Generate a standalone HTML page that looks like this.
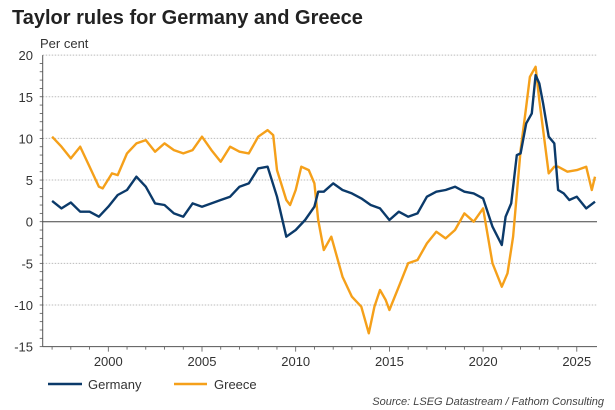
<!DOCTYPE html>
<html><head><meta charset="utf-8"><style>
body{margin:0;background:#fff;font-family:"Liberation Sans",Arial,sans-serif;}
#wrap{position:relative;width:615px;height:410px;overflow:hidden;}
</style></head><body>
<div id="wrap">
<svg id="svg" width="615" height="410" xmlns="http://www.w3.org/2000/svg">
<text x="12" y="24" font-size="20" font-weight="bold" fill="#222">Taylor rules for Germany and Greece</text>
<text x="40" y="48" font-size="13" fill="#333">Per cent</text>
<g id="grid"></g><g id="axes"></g><g id="series"></g>
<line x1="48" y1="384" x2="82" y2="384" stroke="#0b3a6a" stroke-width="2.5"/>
<text x="88" y="389" font-size="13" fill="#333">Germany</text>
<line x1="174" y1="384" x2="207" y2="384" stroke="#f5a01a" stroke-width="2.5"/>
<text x="214" y="389" font-size="13" fill="#333">Greece</text>
<text x="604" y="405" font-size="11" font-style="italic" fill="#444" text-anchor="end">Source: LSEG Datastream / Fathom Consulting</text>
</svg>
</div>
<script>
const yTicks=[20,15,10,5,0,-5,-10,-15];
const xLabels=[2000,2005,2010,2015,2020,2025];
const germanyYears=[1997,1997.5,1998,1998.5,1999,1999.5,2000,2000.5,2001,2001.5,2002,2002.5,2003,2003.5,2004,2004.5,2005,2005.5,2006,2006.5,2007,2007.5,2008,2008.5,2009,2009.5,2010,2010.5,2011,2011.2,2011.5,2012,2012.5,2013,2013.5,2014,2014.5,2015,2015.5,2016,2016.5,2017,2017.5,2018,2018.5,2019,2019.5,2020,2020.5,2021,2021.2,2021.5,2021.8,2022,2022.3,2022.6,2022.8,2023,2023.2,2023.5,2023.8,2024,2024.3,2024.6,2025,2025.5,2025.97];
const germanyValues=[2.5,1.6,2.3,1.2,1.2,0.6,1.8,3.2,3.8,5.4,4.2,2.2,2,1,0.6,2.2,1.8,2.2,2.6,3,4.2,4.6,6.4,6.6,3,-1.8,-1,0.2,1.8,3.6,3.6,4.6,3.8,3.4,2.8,2,1.6,0.2,1.2,0.6,1,3,3.6,3.8,4.2,3.6,3.4,2.8,-0.6,-2.8,0.6,2.2,8,8.2,11.8,13,17.6,16.6,14.2,10.2,9.4,3.8,3.4,2.6,3,1.6,2.4];
const greeceYears=[1997,1997.5,1998,1998.5,1999,1999.5,1999.7,2000.2,2000.5,2001,2001.5,2002,2002.5,2003,2003.5,2004,2004.5,2005,2005.5,2006,2006.5,2007,2007.5,2008,2008.5,2008.8,2009,2009.5,2009.7,2010,2010.3,2010.7,2011,2011.2,2011.5,2011.9,2012.5,2013,2013.5,2013.9,2014.2,2014.5,2014.8,2015,2015.5,2016,2016.5,2017,2017.5,2018,2018.5,2019,2019.5,2020,2020.5,2021,2021.3,2021.6,2022,2022.3,2022.5,2022.8,2023,2023.5,2023.8,2024,2024.5,2025,2025.5,2025.8,2025.97];
const greeceValues=[10.2,9,7.6,9,6.6,4.2,4,5.8,5.6,8.2,9.4,9.8,8.4,9.4,8.6,8.2,8.6,10.2,8.6,7.2,9,8.4,8.2,10.2,11,10.4,6.2,2.6,2,3.8,6.6,6.2,4.6,0.2,-3.4,-1.8,-6.6,-9,-10.2,-13.4,-10.2,-8.2,-9.4,-10.6,-7.8,-5,-4.6,-2.6,-1.2,-2,-1,1,0,1.6,-5,-7.8,-6.2,-1.8,8.6,13.8,17.4,18.6,14.6,5.8,6.6,6.6,6,6.2,6.6,3.8,5.4];
const NS="http://www.w3.org/2000/svg";
const X0=42.7,X1=597;
function xs(yr){return 108.3+(yr-2000)*18.74;}
function ys(v){return 221.7-v*8.33;}
function mk(tag,attrs,parent){const e=document.createElementNS(NS,tag);for(const k in attrs)e.setAttribute(k,attrs[k]);parent.appendChild(e);return e;}
const grid=document.getElementById('grid'),axes=document.getElementById('axes'),series=document.getElementById('series');
yTicks.forEach(v=>{
  if(v!==0&&v!==-15){const g=mk('line',{x1:X0,x2:X1,y1:ys(v),y2:ys(v),stroke:'#bbb','stroke-width':1,'stroke-dasharray':'1.5,1.5'},grid);
  
  }
  const t=mk('text',{x:33,y:ys(v)+5,'font-size':13,fill:'#333','text-anchor':'end'},axes);t.textContent=v;
  
  
});
for(let v=-15;v<20;v++){const tk=mk('line',{x1:X0-3,x2:X0,y1:ys(v),y2:ys(v),stroke:'#555','stroke-width':0.8},axes);

}
const ya=mk('line',{x1:X0,x2:X0,y1:ys(20),y2:ys(-15),stroke:'#555','stroke-width':1},axes);


const xa=mk('line',{x1:X0,x2:X1,y1:ys(-15),y2:ys(-15),stroke:'#555','stroke-width':1},axes);


const zl=mk('line',{x1:X0,x2:X1,y1:ys(0),y2:ys(0),stroke:'#444','stroke-width':1},axes);


for(let yr=1997;yr<=2025;yr++){const big=yr%5===0;const tk=mk('line',{x1:xs(yr),x2:xs(yr),y1:ys(-15),y2:ys(-15)+(big?5:3),stroke:'#555','stroke-width':0.8},axes);

}
xLabels.forEach(yr=>{const t=mk('text',{x:xs(yr),y:366,'font-size':13,fill:'#333','text-anchor':'middle'},axes);t.textContent=yr;

});
function line(years,vals,color,name){
  const d=years.map((y,i)=>(i?'L':'M')+xs(y).toFixed(1)+','+ys(vals[i]).toFixed(1)).join('');
  const p=mk('path',{d:d,fill:'none',stroke:color,'stroke-width':2.4,'stroke-linejoin':'round'},series);
  
  
}
line(greeceYears,greeceValues,'#f5a01a','greece-line');
line(germanyYears,germanyValues,'#0b3a6a','germany-line');
</script>
</body></html>
